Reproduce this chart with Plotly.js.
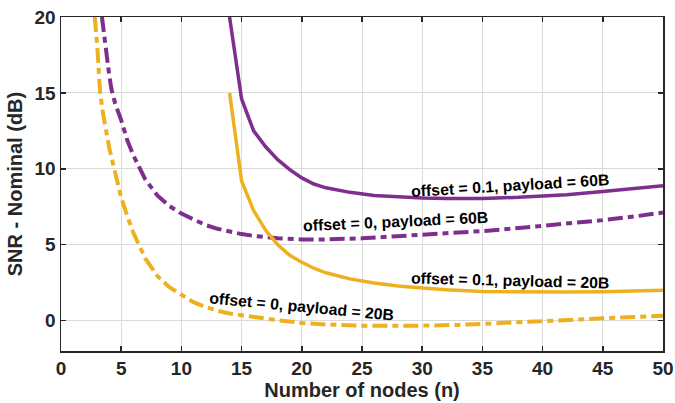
<!DOCTYPE html>
<html>
<head>
<meta charset="utf-8">
<script src="https://cdn.plot.ly/plotly-3.0.1.min.js"></script>
<style>html,body{margin:0;padding:0;background:#fff;}#chart{width:675px;height:403px;}</style>
</head>
<body>
<div id="chart"></div>
<script>
// offset = 0, payload = 20B (dash-dot, yellow)
var nOff0P20 = [2.8, 3, 3.25, 3.5, 4, 4.5, 5, 5.5, 6, 7, 8, 9, 10, 11, 12, 13, 14, 15, 16, 18, 20, 22, 25, 28, 30, 33, 35, 38, 40, 43, 45, 48, 50];
var snrOff0P20 = [20, 18.2, 15, 13.6, 11.4, 9.8, 8.1, 6.9, 5.8, 4.1, 2.95, 2.2, 1.7, 1.22, 0.9, 0.65, 0.47, 0.35, 0.22, 0.03, -0.15, -0.25, -0.33, -0.35, -0.33, -0.28, -0.22, -0.13, -0.06, 0.07, 0.15, 0.26, 0.33];

// offset = 0, payload = 60B (dash-dot, purple)
var nOff0P60 = [3.4, 3.7, 4, 4.2, 4.5, 5, 5.5, 6, 6.5, 7, 8, 9, 10, 11, 12, 13, 14, 15, 16, 18, 20, 22, 25, 28, 30, 33, 35, 38, 40, 43, 45, 48, 50];
var snrOff0P60 = [20, 17.8, 16.2, 15.2, 14.3, 13.2, 11.9, 10.9, 10.05, 9.3, 8.25, 7.55, 7.05, 6.65, 6.3, 6.05, 5.85, 5.7, 5.58, 5.42, 5.35, 5.35, 5.42, 5.55, 5.65, 5.8, 5.9, 6.1, 6.25, 6.45, 6.62, 6.9, 7.12];

// offset = 0.1, payload = 60B (solid, purple)
var nOff01P60 = [14, 15, 16, 17, 18, 19, 20, 21, 22, 24, 26, 28, 30, 32, 35, 38, 40, 42, 45, 48, 50];
var snrOff01P60 = [20, 14.6, 12.5, 11.45, 10.6, 9.95, 9.4, 9.0, 8.75, 8.45, 8.25, 8.15, 8.08, 8.05, 8.05, 8.12, 8.2, 8.3, 8.5, 8.72, 8.88];

// offset = 0.1, payload = 20B (solid, yellow)
var nOff01P20 = [14, 15, 16, 17, 18, 19, 20, 21, 22, 24, 26, 28, 30, 32, 35, 38, 40, 42, 45, 48, 50];
var snrOff01P20 = [15, 9.2, 7.25, 5.95, 5.0, 4.3, 3.85, 3.45, 3.15, 2.75, 2.48, 2.28, 2.15, 2.03, 1.92, 1.88, 1.87, 1.88, 1.9, 1.95, 2.0];

var xTicks = [0, 5, 10, 15, 20, 25, 30, 35, 40, 45, 50];
var yTicks = [0, 5, 10, 15, 20];

var labels = [
  {text: 'offset = 0.1, payload = 60B', x: 37.3, y: 8.88, angle: -3.4},
  {text: 'offset = 0, payload = 60B', x: 27.8, y: 6.5, angle: -2.6},
  {text: 'offset = 0.1, payload = 20B', x: 37.3, y: 2.63, angle: 1.5},
  {text: 'offset = 0, payload = 20B', x: 20.0, y: 0.92, angle: 5.4}
];

var YEL = '#EDB120', PUR = '#7E2F8E';
var DASHDOT = '15px,5px,6px,5px';
var FONT = 'Liberation Sans, Arial, sans-serif';

var traces = [
  {x: nOff0P20, y: snrOff0P20, mode: 'lines', line: {color: YEL, width: 4, dash: DASHDOT}, showlegend: false, hoverinfo: 'skip'},
  {x: nOff0P60, y: snrOff0P60, mode: 'lines', line: {color: PUR, width: 4, dash: DASHDOT}, showlegend: false, hoverinfo: 'skip'},
  {x: nOff01P20, y: snrOff01P20, mode: 'lines', line: {color: YEL, width: 3.5}, showlegend: false, hoverinfo: 'skip'},
  {x: nOff01P60, y: snrOff01P60, mode: 'lines', line: {color: PUR, width: 3.5}, showlegend: false, hoverinfo: 'skip'}
];

var layout = {
  width: 675, height: 403,
  margin: {l: 61, r: 12, t: 17, b: 52},
  paper_bgcolor: '#fff', plot_bgcolor: '#fff',
  font: {family: FONT, color: '#262626'},
  xaxis: {
    range: [0, 50], tickvals: xTicks, ticktext: xTicks.map(String),
    showgrid: true, gridcolor: '#dadada', gridwidth: 1, zeroline: false,
    showline: true, mirror: 'allticks', linecolor: '#262626', linewidth: 1.5,
    ticks: 'inside', ticklen: 5, tickwidth: 1.5, tickcolor: '#262626',
    tickfont: {family: FONT, size: 19, color: '#262626', weight: 'bold'},
    title: {text: '<b>Number of nodes (n)</b>', font: {family: FONT, size: 20, color: '#262626'}, standoff: 2}
  },
  yaxis: {
    range: [-2, 20], tickvals: yTicks, ticktext: yTicks.map(String),
    showgrid: true, gridcolor: '#dadada', gridwidth: 1, zeroline: false,
    showline: true, mirror: 'allticks', linecolor: '#262626', linewidth: 1.5,
    ticks: 'inside', ticklen: 5, tickwidth: 1.5, tickcolor: '#262626',
    tickfont: {family: FONT, size: 19, color: '#262626', weight: 'bold'},
    title: {text: '<b>SNR - Nominal (dB)</b>', font: {family: FONT, size: 20, color: '#262626'}, standoff: 6}
  },
  annotations: labels.map(function (l) {
    return {text: '<b>' + l.text + '</b>', x: l.x, y: l.y, xref: 'x', yref: 'y',
      showarrow: false, textangle: l.angle, font: {family: FONT, size: 15.8, color: '#000'}};
  })
};

Plotly.newPlot('chart', traces, layout, {displayModeBar: false, staticPlot: true});
</script>
</body>
</html>
